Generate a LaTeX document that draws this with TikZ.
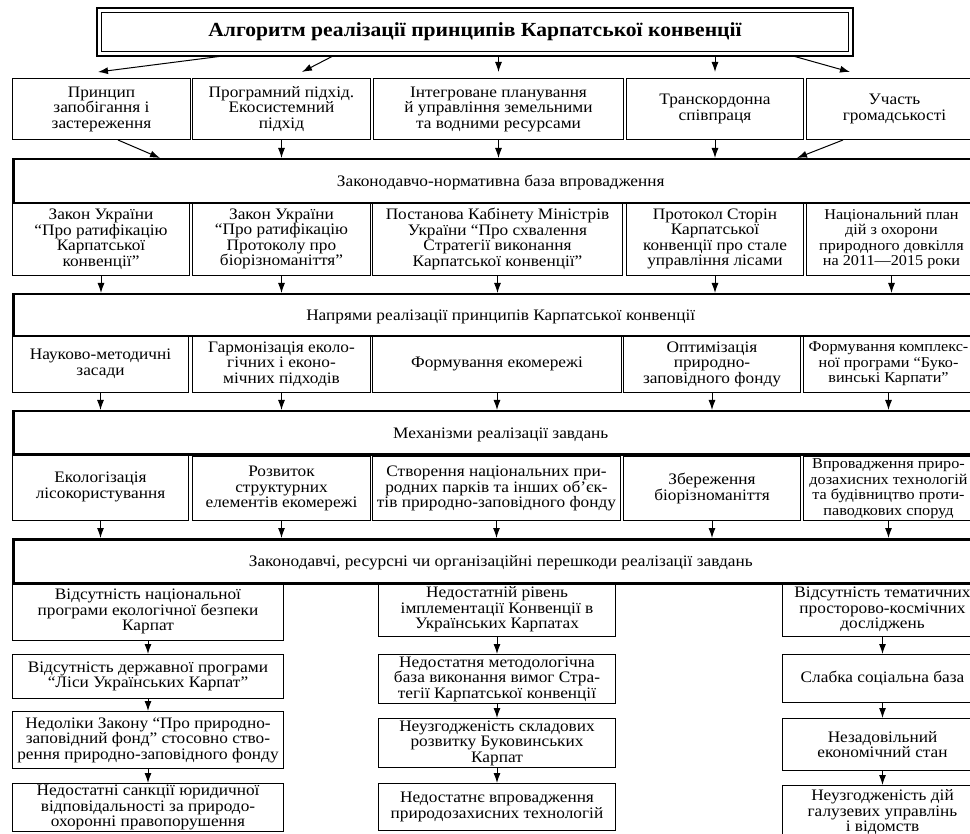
\documentclass[tikz,border=0pt]{standalone}
\usepackage{fontspec}
\setmainfont[FakeStretch=1.08]{Liberation Serif}
\usetikzlibrary{arrows.meta,calc}

\begin{document}
\begin{tikzpicture}[x=1pt,y=-1pt]
        \tikzstyle{box}=[draw,line width=1pt,anchor=north west,align=center,inner sep=1pt,font=\fontsize{16}{15.5}\selectfont]
        \tikzstyle{edge}=[font=\fontsize{15}{15.5}\selectfont]
        \tikzstyle{bar}=[box,line width=2.5pt,minimum width=975,text depth=0pt]
        \tikzstyle{arr}=[line width=1pt,-{Latex[length=10pt,width=7pt]}]
        \useasboundingbox (0,0) rectangle (970,834);

        \node[box,minimum width=747,minimum height=39,font=\fontsize{20}{20}\selectfont\bfseries] (title) at (101,12) {Алгоритм реалізації принципів Карпатської конвенції};
        \draw[line width=2.5pt] ($(title.north west)+(-4,-4)$) rectangle ($(title.south east)+(4,4)$);

        \node[box,minimum width=178,minimum height=61] (p1) at (12,78) {Принцип\\запобігання і\\застереження};
        \node[box,minimum width=178,minimum height=61] (p2) at (192,78) {Програмний підхід.\\Екосистемний\\підхід};
        \node[box,minimum width=250,minimum height=61] (p3) at (373,78) {Інтегроване планування\\й управління земельними\\та водними ресурсами};
        \node[box,minimum width=177,minimum height=61] (p4) at (626,78) {Транскордонна\\співпраця};
        \node[box,minimum width=176,minimum height=61] (p5) at (806,78) {Участь\\громадськості};

        \node[bar,minimum height=44] (b1) at (12,158) {Законодавчо-нормативна база впровадження};

        \node[box,minimum width=177,minimum height=73] (z1) at (12,202) {Закон України\\“Про ратифікацію\\Карпатської\\конвенції”};
        \node[box,minimum width=178,minimum height=73] (z2) at (192,202) {Закон України\\“Про ратифікацію\\Протоколу про\\біорізноманіття”};
        \node[box,minimum width=250,minimum height=73] (z3) at (372,202) {Постанова Кабінету Міністрів\\України “Про схвалення\\Стратегії виконання\\Карпатської конвенції”};
        \node[box,minimum width=177,minimum height=73] (z4) at (626,202) {Протокол Сторін\\Карпатської\\конвенції про стале\\управління лісами};
        \node[box,edge,minimum width=170,minimum height=73] (z5) at (806,202) {Національний план\\дій з охорони\\природного довкілля\\на 2011—2015 роки};

        \node[bar,minimum height=42] (b2) at (12,293) {Напрями реалізації принципів Карпатської конвенції};

        \node[box,minimum width=176,minimum height=57] (n1) at (12,335) {Науково-методичні\\засади};
        \node[box,minimum width=178,minimum height=57] (n2) at (192,335) {Гармонізація еколо-\\гічних і еконо-\\мічних підходів};
        \node[box,minimum width=249,minimum height=57] (n3) at (372,335) {Формування екомережі};
        \node[box,minimum width=177,minimum height=57] (n4) at (623,335) {Оптимізація\\природно-\\заповідного фонду};
        \node[box,edge,minimum width=170,minimum height=57] (n5) at (803,335) {Формування комплекс-\\ної програми “Буко-\\винські Карпати”};

        \node[bar,minimum height=43] (b3) at (12,410) {Механізми реалізації завдань};

        \node[box,minimum width=176,minimum height=67] (m1) at (12,453) {Екологізація\\лісокористування};
        \node[box,minimum width=178,minimum height=64] (m2) at (192,456) {Розвиток\\структурних\\елементів екомережі};
        \node[box,minimum width=248,minimum height=64] (m3) at (372,456) {Створення національних при-\\родних парків та інших об’єк-\\тів природно-заповідного фонду};
        \node[box,minimum width=177,minimum height=64] (m4) at (623,456) {Збереження\\біорізноманіття};
        \node[box,edge,minimum width=170,minimum height=64] (m5) at (803,456) {Впровадження приро-\\дозахисних технологій\\та будівництво проти-\\паводкових споруд};

        \node[bar,minimum height=44] (b4) at (12,538) {Законодавчі, ресурсні чи організаційні перешкоди реалізації завдань};

        \node[box,minimum width=271,minimum height=58] (l1) at (12,582) {Відсутність національної\\програми екологічної безпеки\\Карпат};
        \node[box,minimum width=271,minimum height=44] (l2) at (12,654) {Відсутність державної програми\\“Ліси Українських Карпат”};
        \node[box,minimum width=271,minimum height=57] (l3) at (12,711) {Недоліки Закону “Про природно-\\заповідний фонд” стосовно ство-\\рення природно-заповідного фонду};
        \node[box,minimum width=271,minimum height=48] (l4) at (12,783) {Недостатні санкції юридичної\\відповідальності за природо-\\охоронні правопорушення};

        \node[box,minimum width=237,minimum height=54] (c1) at (378,582) {Недостатній рівень\\імплементації Конвенції в\\Українських Карпатах};
        \node[box,minimum width=237,minimum height=49] (c2) at (378,654) {Недостатня методологічна\\база виконання вимог Стра-\\тегії Карпатської конвенції};
        \node[box,minimum width=237,minimum height=49] (c3) at (378,718) {Неузгодженість складових\\розвитку Буковинських\\Карпат};
        \node[box,minimum width=237,minimum height=47] (c4) at (378,783) {Недостатнє впровадження\\природозахисних технологій};

        \node[box,minimum width=200,minimum height=54] (r1) at (782,582) {Відсутність тематичних\\просторово-космічних\\досліджень};
        \node[box,minimum width=200,minimum height=48] (r2) at (782,654) {Слабка соціальна база};
        \node[box,minimum width=200,minimum height=52] (r3) at (782,718) {Незадовільний\\економічний стан};
        \node[box,minimum width=200,minimum height=54] (r4) at (782,785) {Неузгодженість дій\\галузевих управлінь\\і відомств};

        \draw[arr] ($(title.south west)+(122,4)$) -- ($(p1.north west)+(86,-6)$);
        \draw[arr] ($(title.south west)+(232,4)$) -- ($(p2.north west)+(110,-6)$);
        \draw[arr,shorten >=6pt] ($(title.south -| p3.north)+(0,4)$) -- (p3.north);
        \draw[arr,shorten >=6pt] ($(title.south -| p4.north)+(0,4)$) -- (p4.north);
        \draw[arr] ($(title.south west)+(692,4)$) -- ($(p5.north west)+(44,-6)$);

        \draw[arr] ($(p1.south west)+(106,0)$) -- ($(b1.north west)+(148,0)$);
        \draw[arr] (p2.south) -- (p2.south |- b1.north);
        \draw[arr] (p3.south) -- (p3.south |- b1.north);
        \draw[arr] (p4.south) -- (p4.south |- b1.north);
        \draw[arr] ($(p5.south west)+(37,0)$) -- ($(b1.north west)+(785,0)$);

        \foreach \a/\b in {z1/b2,z2/b2,z3/b2,z4/b2,z5/b2,n1/b3,n2/b3,n3/b3,n4/b3,n5/b3,m1/b4,m2/b4,m3/b4,m4/b4,m5/b4}
            \draw[arr] (\a.south) -- (\a.south |- \b.north);

        \foreach \a/\b in {l1/l2,l2/l3,l3/l4,c1/c2,c2/c3,c3/c4,r1/r2,r2/r3,r3/r4}
            \draw[arr] (\a) -- (\b);
    \end{tikzpicture}
\end{document}
